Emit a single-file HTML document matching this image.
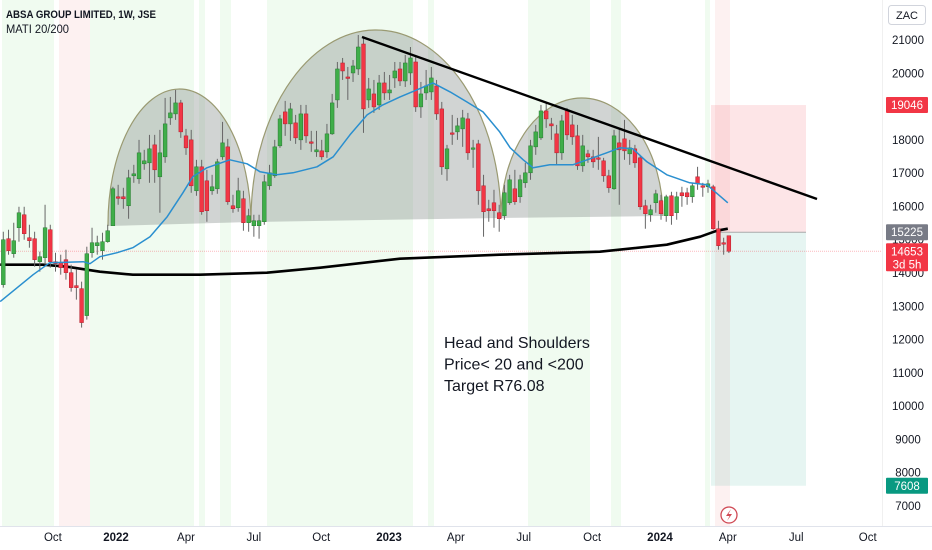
<!DOCTYPE html>
<html><head><meta charset="utf-8"><style>
body{margin:0;background:#fff;}
#wrap{position:relative;width:932px;height:550px;overflow:hidden;font-family:"Liberation Sans",sans-serif;}
svg{position:absolute;left:0;top:0;}
</style></head><body>
<div id="wrap">
<svg id="chart" width="932" height="550" viewBox="0 0 932 550"></svg>
</div>
<script>
const opens=[13650,15030,14580,15360,15750,15060,15030,14340,14460,15300,14340,14310,14400,14010,13620,13530,12720,14610,14820,14670,14940,15420,16290,16290,16020,16920,16830,17280,17310,17850,16890,17490,18660,18780,19110,18120,18000,16470,17190,16770,16470,16530,17490,17790,16020,15960,16230,15510,15420,15420,15540,16620,16920,17820,18840,18480,18510,18000,18780,17940,17640,17670,17640,18180,19200,20310,19890,20010,20130,20880,19200,19380,19050,19710,19410,19860,20130,19770,20010,20340,18990,19410,19440,19620,18930,17130,18210,18240,18330,18630,17730,17880,16620,15930,16110,15810,15720,16110,16530,16290,16710,17010,17790,18060,18870,18480,18180,17610,18870,18450,18120,17220,17580,17490,17460,17370,16920,16530,17910,18030,17580,17730,17460,16020,15750,16110,16170,15720,16320,15810,16410,16410,16290,16890,16620,16590,16590,15330,14910,15120];
const closes=[15000,14670,14970,15810,15180,14970,14400,14490,15360,14340,14280,14160,14010,13560,13560,12510,14580,14910,14910,14940,15270,16530,16260,16230,16860,16980,17610,17370,17730,17100,17610,18480,18810,19110,18240,17760,16620,17190,15840,15870,16590,17340,17910,16140,15930,16470,15510,15720,15570,15570,16740,17010,17790,18630,18480,18930,18060,18780,18120,17910,17700,17490,18180,19110,20130,20070,19860,20220,20790,18930,19530,18990,19710,19410,19500,20070,19770,20310,20460,18990,19380,19620,19860,18780,17190,17730,18180,18420,18660,17610,17760,16470,15840,15870,15870,15630,16410,16800,16140,16800,17010,17820,18240,18870,18630,18420,17610,18570,18150,18090,17220,17820,17490,17340,17430,16920,16560,18120,17700,17670,17760,17310,15990,15780,15900,16380,15780,16290,15720,16290,16320,16290,16620,16680,16590,16680,15330,14820,14880,14653];
const highs=[15240,15300,15510,15990,15990,15450,15240,14640,16050,15450,14610,14550,14700,14250,14100,13740,14790,15360,15120,15210,15450,16590,16650,16560,17100,17250,18000,17700,18150,18150,18300,19260,19290,19500,19200,18330,18300,17400,17400,17100,16950,17430,18540,18030,16350,16860,16470,15930,15750,15750,16950,17250,18000,18750,19170,19110,18750,19050,19050,18270,18270,18000,18480,19380,20340,20460,20190,20400,21150,21060,19860,19800,19950,20040,19950,20340,20340,20550,20790,20550,19740,20100,20190,19800,19140,17850,18750,18660,18900,18810,18000,18000,16950,16200,16500,16050,16650,16950,17100,16950,17310,18000,18450,19050,19110,18660,18450,18750,18960,18750,18450,18150,17700,17700,18090,17460,17100,18300,18360,18600,18000,17850,17550,16200,16050,16500,16350,16350,16440,16440,16590,16560,16710,17190,16710,16800,16650,15570,15060,15120];
const lows=[13560,14550,14460,14940,15000,14760,14190,14040,14250,14160,14040,13950,13800,13440,13200,12360,12600,14460,14550,14400,14910,15420,16050,15930,15630,16710,16680,17100,16710,16710,15810,17310,18450,18600,18060,17550,16410,16320,15750,15540,16350,16380,17400,16050,15810,15840,15270,15240,15090,15030,15450,16500,16860,17760,18120,17970,17880,17700,17910,17640,17490,17400,17460,18150,18960,19800,19200,19740,19950,18210,18960,18810,18900,19200,19200,19560,19620,19590,19650,18840,18660,19200,19200,18600,16950,16770,17850,18000,17790,17400,17160,16050,15090,15540,15360,15240,15600,16050,16050,16110,16560,16800,17550,18000,18360,18000,17250,17400,18000,17850,17100,17040,17310,17160,17100,16740,16410,16500,16050,17400,17250,17160,15900,15330,15540,15810,15600,15540,15450,15600,15990,16050,16110,16500,16290,16410,15300,14700,14550,14600];
const ma20Idx=[-0.6,5.7,8.9,15.3,16.6,18.5,21.8,24.8,28.1,31.4,34.4,36.3,39,43.4,46.7,49.2,52.4,55.5,60.1,63.2,66.4,69.7,72.7,76,79.2,82.3,85.6,88.8,91.9,95.1,97.1,99.6,101.5,104.7,109.1,112.4,115.6,118.1,120.6,123.3,127.1,131.5,134.8,138.8];
const ma20Vals=[13140,13950,14310,14340,14280,14490,14610,14760,15090,15690,16410,16890,17160,17400,17280,17040,16950,17010,17190,17490,18150,18750,19050,19290,19500,19710,19440,19140,18840,18240,17760,17400,17160,17250,17250,17430,17610,17760,17730,17340,16950,16710,16650,16110];
const ma200Idx=[-0.6,7.6,12.2,18.5,24.8,37.7,50.5,60.7,76,95.1,114.3,127.1,133.5,136.7,138.8];
const ma200Vals=[14250,14250,14190,14040,13950,13950,14010,14160,14430,14550,14640,14850,15090,15270,15330];
const priceTicks=[21000,20000,19000,18000,17000,16000,15000,14000,13000,12000,11000,10000,9000,8000,7000];
const timeLabels=["Oct","2022","Apr","Jul","Oct","2023","Apr","Jul","Oct","2024","Apr","Jul","Oct"];
const timeIdx=[9.5,21.6,35,48,60.9,73.9,86.7,99.7,112.8,125.8,138.8,151.9,165.6];
const boldLabels=[false,true,false,false,false,true,false,false,false,true,false,false,false];

const NS="http://www.w3.org/2000/svg";
const svg=document.getElementById('chart');
function y(p){return 40+(21000-p)*0.033286;}
function x(i){return 3.3+5.22*i;}
function mk(tag,attrs,parent){const e=document.createElementNS(NS,tag);for(const k in attrs)e.setAttribute(k,attrs[k]);(parent||svg).appendChild(e);return e;}

const bands=[[2,54,'#f0fbf0'],[59,90,'#fdf1f1'],[90,194,'#f0fbf0'],[199,205,'#f0fbf0'],[220,231,'#f0fbf0'],[267,413,'#f0fbf0'],[428,434,'#f0fbf0'],[528,590,'#f0fbf0'],[611,621,'#f0fbf0'],[705,710,'#f0fbf0'],[715,730,'#fdf1f1']];
for(const b of bands){const r=mk('rect',{x:b[0],y:0,width:b[1]-b[0],height:526,fill:b[2]});

}

let r=mk('rect',{x:711,y:y(19046),width:95,height:y(15225)-y(19046),fill:'rgba(242,54,69,0.13)'});


r=mk('rect',{x:711,y:y(15225),width:95,height:y(7608)-y(15225),fill:'rgba(8,153,129,0.10)'});


r=mk('line',{x1:711,x2:806,y1:y(15225),y2:y(15225),stroke:'#aaa','stroke-width':1});



r=mk('line',{x1:0,x2:882,y1:y(14653),y2:y(14653),stroke:'rgba(242,54,69,0.35)','stroke-width':1,'stroke-dasharray':'1 1'});



function arc(x1,y1,x2,y2,top,name){
 const rx=(x2-x1)/2, ry=((y1+y2)/2)-top;
 const p=mk('path',{d:`M${x1} ${y1} A${rx} ${ry} 0 0 1 ${x2} ${y2} Z`,fill:'rgba(120,128,125,0.34)',stroke:'none'});
 
 
 const s=mk('path',{d:`M${x1} ${y1} A${rx} ${ry} 0 0 1 ${x2} ${y2}`,fill:'none',stroke:'#9a9a72','stroke-width':1.2});
 
 
}
arc(108,226,251,222,89,'left-shoulder-arc');
arc(251,222,501,218,30,'head-arc');
arc(501,218,663,216,98,'right-shoulder-arc');

let d='';ma200Idx.forEach((v,k)=>{d+=(k?'L':'M')+x(v).toFixed(1)+' '+y(ma200Vals[k]).toFixed(1)+' ';});
r=mk('path',{d:d,fill:'none',stroke:'#000','stroke-width':2.6,'stroke-linejoin':'round'});



for(let i=0;i<opens.length;i++){
 const o=opens[i],c=closes[i],up=c>=o,cx=x(i);
 const g=mk('g',{});
 
 
 mk('line',{x1:cx,x2:cx,y1:y(highs[i]),y2:y(lows[i]),stroke:'#666','stroke-width':1},g);
 const top=y(Math.max(o,c)),h=Math.max(1.5,Math.abs(y(o)-y(c)));
 mk('rect',{x:cx-1.9,y:top,width:3.8,height:h,fill:up?'#3fae49':'#f23645',stroke:up?'#2a7a33':'#b3202e','stroke-width':0.5},g);
}

d='';ma20Idx.forEach((v,k)=>{d+=(k?'L':'M')+x(v).toFixed(1)+' '+y(ma20Vals[k]).toFixed(1)+' ';});
r=mk('path',{d:d,fill:'none',stroke:'#2a8fcf','stroke-width':1.5,'stroke-linejoin':'round'});



r=mk('line',{x1:362,y1:37,x2:817,y2:199,stroke:'#000','stroke-width':2.4});



r=mk('line',{x1:0,x2:932,y1:526.5,y2:526.5,stroke:'#e0e3eb','stroke-width':1});


r=mk('line',{x1:882.5,x2:882.5,y1:0,y2:526,stroke:'#f0f0f0','stroke-width':1});


priceTicks.forEach(p=>{
 const t=mk('text',{x:908,y:y(p)+4,'text-anchor':'middle','font-size':11.5,fill:'#131722'});
 t.textContent=p;
 
 
});
timeLabels.forEach((lb,k)=>{
 const t=mk('text',{x:x(timeIdx[k]),y:541,'text-anchor':'middle','font-size':11.5,fill:'#131722','font-weight':boldLabels[k]?'bold':'normal'});
 t.textContent=lb;
 
 
});

function badge(p,txt,fill,name,h,sub){
 const g=mk('g',{});
 
 
 const yy=y(p);
 mk('rect',{x:886,y:yy-8,width:42,height:h,fill:fill,rx:1},g);
 const t=mk('text',{x:907,y:yy+4,'text-anchor':'middle','font-size':11.5,fill:'#fff'},g);t.textContent=txt;
 if(sub){const t2=mk('text',{x:907,y:yy+17,'text-anchor':'middle','font-size':11.5,fill:'#fff'},g);t2.textContent=sub;}
}
badge(19046,'19046','#f23645','stop-price-badge',16);
badge(15225,'15225','#787b86','entry-price-badge',16);
badge(14653,'14653','#f23645','last-price-badge',28,'3d 5h');
badge(7608,'7608','#089981','target-price-badge',16);

r=mk('rect',{x:888.5,y:5.5,width:37,height:19,fill:'#fff',stroke:'#d1d4dc',rx:3});


let t=mk('text',{x:907,y:19,'text-anchor':'middle','font-size':11,fill:'#131722'});t.textContent='ZAC';



const gi=mk('g',{});


mk('circle',{cx:729,cy:515,r:8,fill:'#fff',stroke:'#d04a55','stroke-width':1.3},gi);
mk('path',{d:'M731 509 L726 516 L729.5 516 L727 521 L732 514 L728.5 514 Z',fill:'#d04a55'},gi);

t=mk('text',{x:6,y:18,'font-size':11,'font-weight':'bold',fill:'#131722',textLength:150,lengthAdjust:'spacingAndGlyphs'});t.textContent='ABSA GROUP LIMITED, 1W, JSE';


t=mk('text',{x:6,y:33,'font-size':11.5,fill:'#131722',textLength:63,lengthAdjust:'spacingAndGlyphs'});t.textContent='MATI 20/200';



["Head and Shoulders","Price< 20 and <200","Target R76.08"].forEach((s,k)=>{
 const a=mk('text',{x:444,y:348+k*21.5,'font-size':16,fill:'#131722'});a.textContent=s;
 
 
});
</script>
</body></html>
